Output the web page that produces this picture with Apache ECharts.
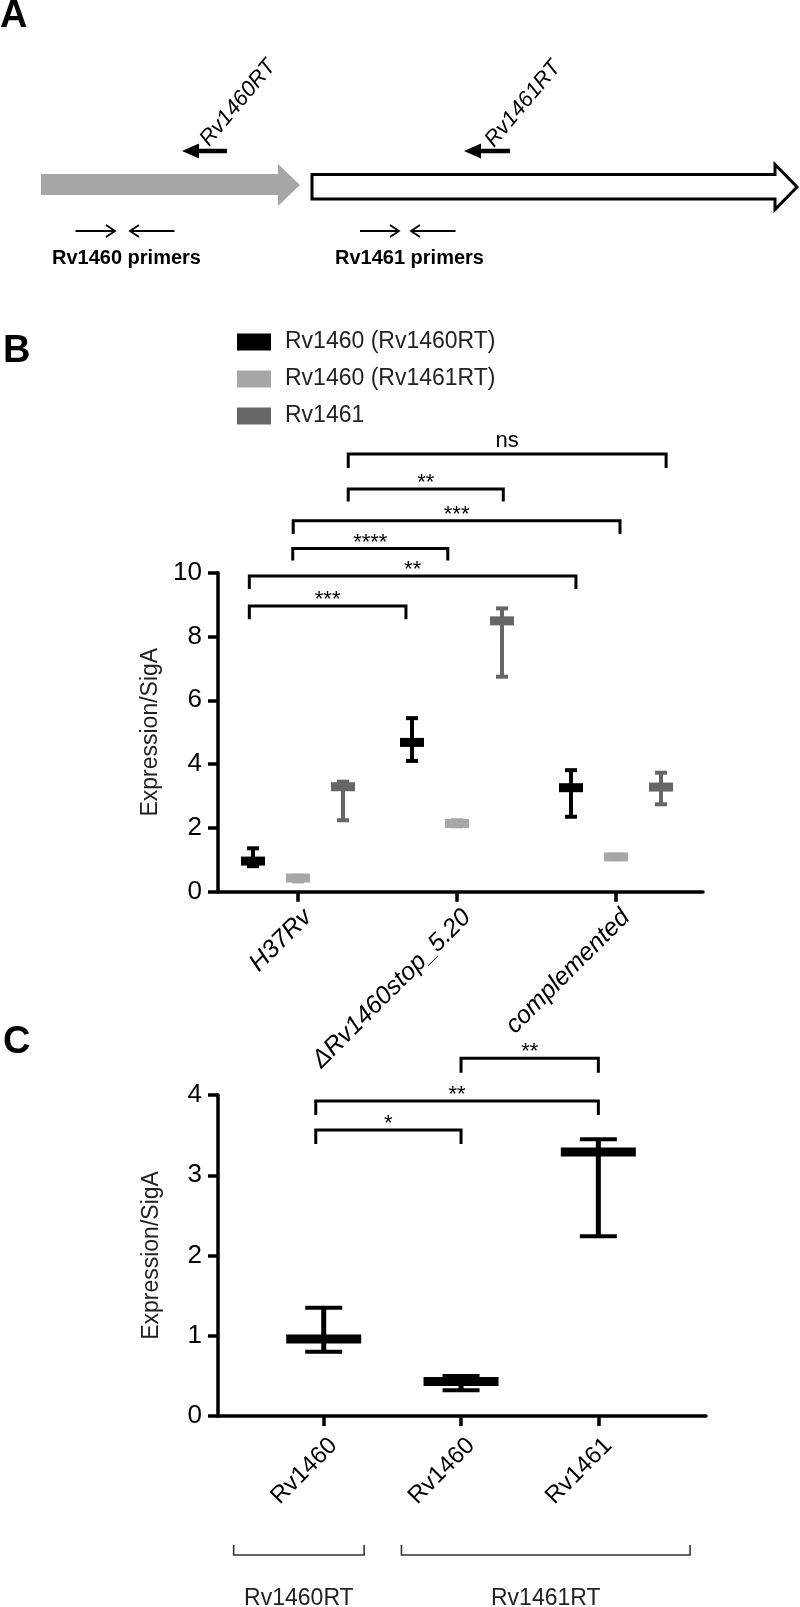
<!DOCTYPE html>
<html>
<head>
<meta charset="utf-8">
<script src="https://cdn.jsdelivr.net/npm/echarts@6/dist/echarts.min.js"></script>
<style>
  html, body { margin: 0; padding: 0; background: #fff; }
  #chart { width: 800px; height: 1607px; }
</style>
</head>
<body>
<div id="chart"></div>
<script>
// ---- panel B data ----
const strainsB = ['H37Rv', 'ΔRv1460stop_5.20', 'complemented'];
const seriesNamesB = ['Rv1460 (Rv1460RT)', 'Rv1460 (Rv1461RT)', 'Rv1461'];
const seriesColorsB = ['#000000', '#a7a7a9', '#666666'];
const offsetsB = [-0.283, 0, 0.283];
const meanB = [[0.96, 4.68, 3.26], [0.43, 2.14, 1.09], [3.29, 8.49, 3.28]];
const lowB = [[0.80, 4.10, 2.35], [0.32, 2.05, 1.02], [2.24, 6.74, 2.74]];
const highB = [[1.36, 5.44, 3.81], [0.50, 2.24, 1.16], [3.45, 8.88, 3.73]];
const yTicksB = [0, 2, 4, 6, 8, 10];
// significance brackets: x start, x end, line y, leg y
const bracketsB = [
  [-0.306, 0.679, 8.96, 8.54],
  [-0.306, 1.748, 9.90, 9.49],
  [-0.033, 0.942, 10.76, 10.38],
  [-0.030, 2.025, 11.63, 11.21],
  [0.316, 1.291, 12.62, 12.23],
  [0.316, 2.315, 13.72, 13.28]
];
const bracketLabelsB = ['***', '**', '****', '***', '**', 'ns'];

// ---- panel C data ----
const targetsC = ['Rv1460', 'Rv1460', 'Rv1461'];
const meanC = [0.96, 0.43, 3.29];
const lowC = [0.80, 0.32, 2.24];
const highC = [1.35, 0.50, 3.45];
const yTicksC = [0, 1, 2, 3, 4];
const bracketsC = [
  [-0.058, 1.0, 3.564, 3.39],
  [-0.058, 2.0, 3.925, 3.75],
  [1.0, 2.0, 4.457, 4.278]
];
const bracketLabelsC = ['*', '**', '**'];
// primer groups under the axis: x start, x end, line y, leg y, label y
const groupsC = [
  [-0.656, 0.294, -1.732, -1.607, -2.27],
  [0.566, 2.668, -1.732, -1.607, -2.27]
];
const groupLabelsC = ['Rv1460RT', 'Rv1461RT'];

const FONT = "'Liberation Sans', Arial, sans-serif";

function errorBarItem(barW, barH, capW, lineW) {
  return function (params, api) {
    const x = api.value(0);
    const pm = api.coord([x, api.value(1)]);
    const pl = api.coord([x, api.value(2)]);
    const ph = api.coord([x, api.value(3)]);
    const color = api.visual('color');
    return {
      type: 'group',
      children: [
        { type: 'rect', shape: { x: pm[0] - lineW / 2, y: ph[1], width: lineW, height: pl[1] - ph[1] }, style: { fill: color } },
        { type: 'rect', shape: { x: pm[0] - capW / 2, y: ph[1] - 2, width: capW, height: 4 }, style: { fill: color } },
        { type: 'rect', shape: { x: pm[0] - capW / 2, y: pl[1] - 2, width: capW, height: 4 }, style: { fill: color } },
        { type: 'rect', shape: { x: pm[0] - barW / 2, y: pm[1] - barH / 2, width: barW, height: barH }, style: { fill: color } }
      ]
    };
  };
}

function bracketItem(labels, lineW, color, fontSize) {
  return function (params, api) {
    const a = api.coord([api.value(0), api.value(2)]);
    const b = api.coord([api.value(1), api.value(2)]);
    const legY = api.coord([api.value(0), api.value(3)])[1];
    const label = labels[params.dataIndex];
    const gap = label === 'ns' ? 13 : 6;
    return {
      type: 'group',
      children: [
        { type: 'polyline', shape: { points: [[a[0], legY], a, b, [b[0], legY]] }, style: { stroke: color, lineWidth: lineW, fill: null } },
        { type: 'text', x: (a[0] + b[0]) / 2, y: a[1] - gap, style: { text: label, fill: '#000', fontSize: fontSize, fontFamily: FONT, align: 'center', verticalAlign: 'middle' } }
      ]
    };
  };
}

function groupItem(params, api) {
  const a = api.coord([api.value(0), api.value(2)]);
  const b = api.coord([api.value(1), api.value(2)]);
  const legY = api.coord([api.value(0), api.value(3)])[1];
  const ly = api.coord([api.value(0), api.value(4)])[1];
  return {
    type: 'group',
    children: [
      { type: 'polyline', shape: { points: [[a[0], legY], a, b, [b[0], legY]] }, style: { stroke: '#333', lineWidth: 1.6, fill: null } },
      { type: 'text', x: (a[0] + b[0]) / 2, y: ly, style: { text: groupLabelsC[params.dataIndex], fill: '#222', fontSize: 23, fontFamily: FONT, align: 'center', verticalAlign: 'middle' } }
    ]
  };
}

const seriesB = seriesNamesB.map((name, s) => ({
  name: name,
  type: 'custom',
  xAxisIndex: 0,
  yAxisIndex: 0,
  clip: false,
  itemStyle: { color: seriesColorsB[s] },
  renderItem: errorBarItem(24, 9, 12, 4),
  data: strainsB.map((_, g) => [g + offsetsB[s], meanB[s][g], lowB[s][g], highB[s][g]])
}));

// panel A diagram
function primerArrow(x1, x2, y) {
  const dir = Math.sign(x2 - x1);
  return [
    { type: 'line', shape: { x1: x1, y1: y, x2: x2, y2: y }, style: { stroke: '#000', lineWidth: 1.8 } },
    { type: 'polyline', shape: { points: [[x2 - dir * 9, y - 6], [x2, y], [x2 - dir * 9, y + 6]] }, style: { stroke: '#000', lineWidth: 1.8, fill: null } }
  ];
}
function rtArrow(tip, tail, y) {
  return [
    { type: 'line', shape: { x1: tip + 14, y1: y, x2: tail, y2: y }, style: { stroke: '#000', lineWidth: 4.5 } },
    { type: 'polygon', shape: { points: [[tip, y], [tip + 17, y - 7.5], [tip + 17, y + 7.5]] }, style: { fill: '#000' } }
  ];
}

const rtAngle = 50 * Math.PI / 180;
const graphicA = [
  { type: 'text', x: 0, y: 17, style: { text: 'A', fontSize: 38, fontWeight: 'bold', fontFamily: FONT, fill: '#000', verticalAlign: 'middle' } },
  { type: 'text', x: 3, y: 352, style: { text: 'B', fontSize: 38, fontWeight: 'bold', fontFamily: FONT, fill: '#000', verticalAlign: 'middle' } },
  { type: 'text', x: 3, y: 1043, style: { text: 'C', fontSize: 38, fontWeight: 'bold', fontFamily: FONT, fill: '#000', verticalAlign: 'middle' } },
  { type: 'polygon', shape: { points: [[41, 174], [278, 174], [278, 164], [300, 185], [278, 206], [278, 195], [41, 195]] }, style: { fill: '#a6a6a6' } },
  { type: 'polygon', shape: { points: [[312, 174.5], [775, 174.5], [775, 164.5], [797, 187], [775, 209.5], [775, 199], [312, 199]] }, style: { fill: '#fff', stroke: '#000', lineWidth: 3 } },
  ...rtArrow(182, 227, 151),
  ...rtArrow(464, 510, 151),
  { type: 'text', x: 238, y: 103, rotation: rtAngle, style: { text: 'Rv1460RT', fontSize: 22, fontStyle: 'italic', fontFamily: FONT, fill: '#000', align: 'center', verticalAlign: 'middle' } },
  { type: 'text', x: 523, y: 104, rotation: rtAngle, style: { text: 'Rv1461RT', fontSize: 22, fontStyle: 'italic', fontFamily: FONT, fill: '#000', align: 'center', verticalAlign: 'middle' } },
  ...primerArrow(75.5, 115, 231),
  ...primerArrow(174.5, 130, 231),
  ...primerArrow(360, 399, 231),
  ...primerArrow(455.5, 411, 231),
  { type: 'text', x: 52, y: 258, style: { text: 'Rv1460 primers', fontSize: 20, fontWeight: 'bold', fontFamily: FONT, fill: '#000', verticalAlign: 'middle' } },
  { type: 'text', x: 335, y: 258, style: { text: 'Rv1461 primers', fontSize: 20, fontWeight: 'bold', fontFamily: FONT, fill: '#000', verticalAlign: 'middle' } }
];

const axisLineStyle = { color: '#000', width: 3.5 };

const option = {
  animation: false,
  backgroundColor: '#fff',
  textStyle: { fontFamily: FONT },
  graphic: graphicA,
  legend: {
    orient: 'vertical',
    left: 232,
    top: 325,
    itemWidth: 34,
    itemHeight: 17,
    itemGap: 13,
    data: seriesNamesB.map(n => ({ name: n, icon: 'rect' })),
    textStyle: { fontSize: 23, color: '#222', lineHeight: 24, padding: [0, 0, 0, 9] },
    selectedMode: false
  },
  grid: [
    { left: 218, top: 572.7, width: 485, height: 319 },
    { left: 218, top: 1095, width: 488, height: 321 }
  ],
  xAxis: [
    {
      type: 'value', gridIndex: 0, min: -0.503, max: 2.547,
      splitLine: { show: false },
      axisLine: { onZero: false, lineStyle: axisLineStyle },
      axisTick: { customValues: [0, 1, 2], length: 10, lineStyle: axisLineStyle },
      axisLabel: {
        customValues: [0, 1, 2], rotate: 45, margin: 12,
        fontSize: 25, fontStyle: 'italic', color: '#000',
        verticalAlign: 'top', lineHeight: 28,
        formatter: v => strainsB[Math.round(v)]
      }
    },
    {
      type: 'value', gridIndex: 1, min: -0.770, max: 2.784,
      splitLine: { show: false },
      axisLine: { onZero: false, lineStyle: axisLineStyle },
      axisTick: { customValues: [0, 1, 2], length: 10, lineStyle: axisLineStyle },
      axisLabel: {
        customValues: [0, 1, 2], rotate: 45, margin: 16,
        fontSize: 24, color: '#000',
        verticalAlign: 'top', lineHeight: 28,
        formatter: v => targetsC[Math.round(v)]
      }
    }
  ],
  yAxis: [
    {
      type: 'value', gridIndex: 0, min: yTicksB[0], max: yTicksB[yTicksB.length - 1], interval: 2,
      name: 'Expression/SigA', nameLocation: 'middle', nameGap: 55,
      nameTextStyle: { fontSize: 23, color: '#222' },
      splitLine: { show: false },
      axisLine: { show: true, onZero: false, lineStyle: axisLineStyle },
      axisTick: { show: true, length: 10, lineStyle: axisLineStyle },
      axisLabel: { fontSize: 26, color: '#000', margin: 16 }
    },
    {
      type: 'value', gridIndex: 1, min: yTicksC[0], max: yTicksC[yTicksC.length - 1], interval: 1,
      name: 'Expression/SigA', nameLocation: 'middle', nameGap: 55,
      nameTextStyle: { fontSize: 23, color: '#222' },
      splitLine: { show: false },
      axisLine: { show: true, onZero: false, lineStyle: axisLineStyle },
      axisTick: { show: true, length: 10, lineStyle: axisLineStyle },
      axisLabel: { fontSize: 26, color: '#000', margin: 16 }
    }
  ],
  series: [
    ...seriesB,
    {
      name: 'bracketsB', type: 'custom', xAxisIndex: 0, yAxisIndex: 0, clip: false,
      renderItem: bracketItem(bracketLabelsB, 3, '#000', 22),
      data: bracketsB
    },
    {
      name: 'panelC', type: 'custom', xAxisIndex: 1, yAxisIndex: 1, clip: false,
      itemStyle: { color: '#000' },
      renderItem: errorBarItem(75, 9, 37, 5),
      data: targetsC.map((_, i) => [i, meanC[i], lowC[i], highC[i]])
    },
    {
      name: 'bracketsC', type: 'custom', xAxisIndex: 1, yAxisIndex: 1, clip: false,
      renderItem: bracketItem(bracketLabelsC, 3, '#000', 22),
      data: bracketsC
    },
    {
      name: 'groupsC', type: 'custom', xAxisIndex: 1, yAxisIndex: 1, clip: false,
      renderItem: groupItem,
      data: groupsC
    }
  ]
};

const chart = echarts.init(document.getElementById('chart'));
chart.setOption(option);
</script>
</body>
</html>
